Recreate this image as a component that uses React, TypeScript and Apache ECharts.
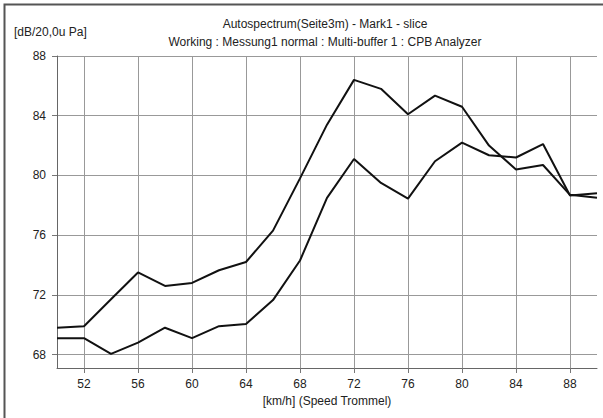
import React, { useEffect, useRef } from "react";
import * as echarts from "echarts";

// Speed in km/h, one sample every 2 km/h
const speeds = [50, 52, 54, 56, 58, 60, 62, 64, 66, 68, 70, 72, 74, 76, 78, 80, 82, 84, 86, 88, 90];

// Level in dB re 20 µPa for the two slices
const levelA = [69.8, 69.9, 71.7, 73.5, 72.6, 72.8, 73.65, 74.2, 76.3, 79.8, 83.4, 86.4, 85.8, 84.1, 85.35, 84.6, 82.0, 80.4, 80.7, 78.7, 78.5];
const levelB = [69.1, 69.1, 68.05, 68.8, 69.8, 69.1, 69.9, 70.05, 71.65, 74.3, 78.5, 81.1, 79.5, 78.45, 80.95, 82.2, 81.35, 81.2, 82.1, 78.65, 78.8];

const xTicks = [52, 56, 60, 64, 68, 72, 76, 80, 84, 88];
const yTicks = [68, 72, 76, 80, 84, 88];

const titleLine1 = "Autospectrum(Seite3m) - Mark1 - slice";
const titleLine2 = "Working : Messung1 normal : Multi-buffer 1 : CPB Analyzer";
const yUnit = "[dB/20,0u Pa]";
const xName = "[km/h] (Speed Trommel)";

const FONT = "'Liberation Sans', Arial, sans-serif";

export default function App() {
  const ref = useRef<HTMLDivElement>(null);

  useEffect(() => {
    if (!ref.current) return;
    const chart = echarts.init(ref.current, undefined, { renderer: "svg" });

    const pairs = (ys: number[]) => speeds.map((s, i) => [s, ys[i]]);

    chart.setOption({
      animation: false,
      backgroundColor: "#ffffff",
      textStyle: { fontFamily: FONT },
      grid: { left: 57, top: 56, right: 6, bottom: 50, containLabel: false },
      xAxis: {
        type: "value",
        min: 50,
        max: 90,
        name: xName,
        nameLocation: "middle",
        nameGap: 27,
        nameTextStyle: { color: "#222", fontSize: 12, fontFamily: FONT },
        axisLine: { show: true, lineStyle: { color: "#666", width: 1 } },
        axisTick: { show: true, inside: false, length: 5, customValues: xTicks, lineStyle: { color: "#777" } },
        axisLabel: { customValues: xTicks, color: "#222", fontSize: 12, margin: 10, fontFamily: FONT },
        splitLine: { show: true, lineStyle: { color: "#999", width: 1 } },
      },
      yAxis: {
        type: "value",
        min: 67.1,
        max: 88,
        axisLine: { show: true, lineStyle: { color: "#666", width: 1 } },
        axisTick: { show: true, inside: false, length: 5, customValues: yTicks, lineStyle: { color: "#777" } },
        axisLabel: { customValues: yTicks, color: "#222", fontSize: 12, margin: 11, fontFamily: FONT },
        splitLine: { show: true, lineStyle: { color: "#999", width: 1 } },
      },
      graphic: [
        {
          type: "rect",
          silent: true,
          shape: { x: 4.5, y: 4.5, width: 640, height: 460 },
          style: { fill: "none", stroke: "#555", lineWidth: 2 },
        },
        {
          type: "text",
          left: 14,
          top: 26,
          style: { text: yUnit, fill: "#222", font: `12px ${FONT}` },
        },
        {
          type: "text",
          x: 325,
          y: 24,
          style: { text: titleLine1, fill: "#222", font: `12px ${FONT}`, textAlign: "center", textVerticalAlign: "middle" },
        },
        {
          type: "text",
          x: 325,
          y: 42,
          style: { text: titleLine2, fill: "#222", font: `12px ${FONT}`, textAlign: "center", textVerticalAlign: "middle" },
        },
      ],
      series: [
        {
          type: "line",
          data: pairs(levelA),
          symbol: "none",
          lineStyle: { color: "#111", width: 2 },
        },
        {
          type: "line",
          data: pairs(levelB),
          symbol: "none",
          lineStyle: { color: "#111", width: 2 },
        },
      ],
    });

    return () => chart.dispose();
  }, []);

  return (
    <div
      ref={ref}
      style={{ position: "fixed", left: 0, top: 0, width: 603, height: 418, background: "#fff" }}
    />
  );
}
